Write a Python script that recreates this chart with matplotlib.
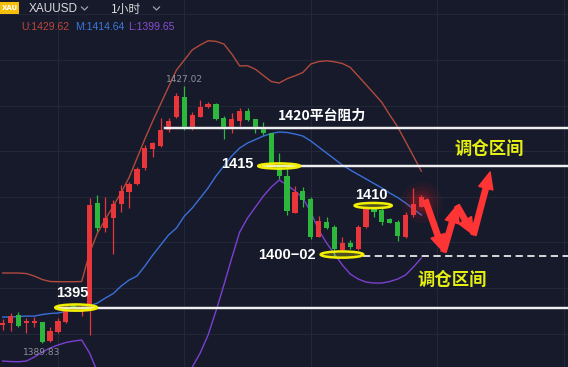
import matplotlib.pyplot as plt
from matplotlib.patches import Ellipse, Rectangle, FancyArrowPatch
import numpy as np

# XAUUSD 1h candles (red = up, green = down)
opens = [1392.49, 1392.69, 1393.89, 1392.69, 1392.78, 1392.92, 1390.13, 1391.39, 1392.88, 1395.34,
         1394.37, 1395.09, 1410.05, 1406.43, 1407.88, 1409.91, 1411.73, 1412.85, 1415.20, 1417.91,
         1418.39, 1420.66, 1422.58, 1425.48, 1420.90, 1422.58, 1423.94, 1424.42, 1422.35, 1421.05,
         1422.00, 1423.45, 1422.21, 1420.90, 1420.18, 1415.59, 1414.00, 1408.69, 1411.88, 1410.63,
         1405.22, 1407.39, 1406.58, 1403.29, 1404.35, 1403.40, 1406.58, 1409.18, 1409.08, 1407.74,
         1407.39, 1405.22, 1408.36, 1409.56]
closes = [1392.78, 1393.74, 1392.30, 1393.06, 1392.98, 1390.03, 1391.62, 1393.06, 1394.61, 1395.00,
          1394.90, 1409.81, 1406.43, 1407.88, 1409.95, 1411.83, 1412.89, 1414.97, 1418.01, 1418.73,
          1420.66, 1421.96, 1425.62, 1420.90, 1422.83, 1424.03, 1424.42, 1422.25, 1421.05, 1422.21,
          1423.45, 1422.11, 1420.90, 1420.18, 1415.59, 1414.00, 1408.98, 1411.73, 1410.53, 1405.13,
          1407.53, 1406.43, 1403.40, 1404.35, 1403.69, 1406.58, 1409.18, 1408.84, 1407.39, 1407.25,
          1405.32, 1408.36, 1409.95, 1410.92]
highs = [1393.31, 1394.18, 1394.32, 1393.46, 1393.56, 1392.95, 1392.20, 1393.41, 1395.19, 1395.50,
         1395.34, 1410.86, 1411.25, 1411.01, 1410.53, 1412.70, 1413.18, 1415.35, 1418.49, 1418.97,
         1422.35, 1422.44, 1425.97, 1427.02, 1423.31, 1425.00, 1424.75, 1424.50, 1422.68, 1423.08,
         1423.80, 1423.80, 1422.30, 1421.86, 1420.20, 1417.29, 1415.35, 1412.56, 1412.37, 1411.01,
         1408.21, 1408.11, 1406.91, 1405.22, 1404.74, 1406.91, 1409.56, 1409.47, 1409.56, 1407.97,
         1407.64, 1408.84, 1412.22, 1411.25]
lows = [1391.72, 1391.57, 1392.20, 1391.28, 1392.11, 1389.83, 1389.95, 1391.24, 1392.69, 1394.70,
        1393.74, 1391.00, 1406.09, 1405.94, 1402.67, 1408.84, 1409.33, 1412.70, 1414.87, 1416.80,
        1418.24, 1420.41, 1422.35, 1420.66, 1420.66, 1422.50, 1423.80, 1422.11, 1419.31, 1420.18,
        1421.28, 1421.96, 1420.27, 1419.94, 1415.12, 1413.53, 1408.36, 1408.60, 1409.56, 1404.84,
        1405.13, 1406.29, 1402.33, 1403.05, 1403.40, 1403.29, 1406.43, 1408.11, 1406.91, 1407.16,
        1404.64, 1404.99, 1408.11, 1409.47]

# Bollinger bands
upper = [1399.97, 1399.97, 1399.97, 1399.89, 1399.53, 1399.03, 1398.74, 1398.71, 1398.71, 1398.71,
         1398.74, 1402.86, 1405.77, 1407.72, 1409.66, 1411.60, 1413.79, 1416.56, 1419.36, 1421.98,
         1424.44, 1426.91, 1429.34, 1430.79, 1432.26, 1432.96, 1433.57, 1433.49, 1433.10, 1431.66,
         1429.93, 1429.96, 1429.44, 1428.55, 1427.68, 1427.46, 1428.08, 1428.50, 1428.98, 1430.21,
         1430.56, 1430.67, 1430.53, 1430.28, 1429.72, 1428.47, 1427.21, 1425.94, 1424.65, 1422.83,
         1421.09, 1418.99, 1416.85, 1414.70]
middle = [1393.60, 1393.60, 1393.67, 1393.74, 1393.74, 1393.96, 1394.11, 1394.18, 1394.40, 1394.61,
          1394.90, 1395.19, 1395.63, 1396.35, 1397.00, 1398.09, 1398.95, 1399.53, 1400.98, 1402.57,
          1404.02, 1405.47, 1406.48, 1408.21, 1409.37, 1410.82, 1412.27, 1414.00, 1415.45, 1416.90,
          1418.05, 1418.78, 1419.28, 1419.79, 1420.15, 1420.37, 1420.30, 1420.08, 1419.79, 1419.07,
          1418.20, 1417.33, 1416.46, 1415.59, 1414.87, 1414.22, 1413.57, 1412.92, 1412.27, 1411.54,
          1410.89, 1410.10, 1409.23, 1408.36]
lower = [1387.23, 1387.16, 1387.13, 1387.23, 1387.81, 1388.54, 1389.11, 1389.55, 1389.91, 1390.13,
         1390.27, 1388.39, 1385.64, 1384.92, 1384.34, 1384.48, 1384.19, 1383.04, 1382.60, 1383.18,
         1383.62, 1383.91, 1383.62, 1385.06, 1386.37, 1388.39, 1391.00, 1394.47, 1398.23, 1402.14,
         1405.90, 1407.93, 1409.52, 1411.11, 1412.41, 1413.42, 1412.70, 1411.83, 1410.82, 1408.79,
         1406.19, 1404.31, 1402.72, 1401.12, 1399.82, 1399.10, 1398.66, 1398.52, 1398.52, 1398.74,
         1399.10, 1399.68, 1400.84, 1402.14]

# hand drawn levels: (price, start index, dashed)
levels = [(1420.88, 20.5, False), (1415.52, 33.0, False), (1394.95, 6.9, False), (1402.50, 45.6, True)]
# yellow circles: (index, price, width, height)
rings = [(9.3, 1394.97, 5.3, 0.9), (35.0, 1415.45, 5.3, 0.75), (46.9, 1409.73, 4.7, 0.75), (42.95, 1402.64, 5.4, 0.9)]
# forecast zigzag
zigzag = [(53.5, 1410.5), (55.8, 1403.05), (57.5, 1409.7), (59.6, 1405.5), (61.7, 1414.6)]

bg = '#161a2b'
up_c = '#e8363a'
dn_c = '#2db83d'
cjk = ['Noto Sans CJK SC', 'DejaVu Sans']

fig = plt.figure(figsize=(5.68, 3.67), dpi=100)
fig.patch.set_facecolor(bg)
ax = fig.add_axes([0, 0, 1, 1])
ax.set_facecolor(bg)
ax.set_xlim(-0.34, 71.56)
ax.set_ylim(1386.37, 1439.47)
ax.axis('off')

# grid
for gx in [7, 23, 39, 55, 71]:
    ax.axvline(gx, color='#232839', lw=0.8, zorder=0)
for gy in [1391.2, 1397.8, 1404.4, 1411.0, 1417.6, 1424.2, 1430.8, 1437.4]:
    ax.axhline(gy, color='#232839', lw=0.8, zorder=0)

x = np.arange(len(opens))
o = np.array(opens)
c = np.array(closes)
h = np.array(highs)
l = np.array(lows)

ax.plot(x, upper, color='#b04a3c', lw=1.0, zorder=2)
ax.plot(x, middle, color='#3a6fd8', lw=1.0, zorder=2)
ax.plot(x, lower, color='#7b40cf', lw=1.0, zorder=2)

# glow on last candle
for s, a in [(900, 0.05), (550, 0.07), (300, 0.1), (150, 0.15)]:
    ax.scatter(x[-1], (o[-1] + c[-1]) / 2, s=s, color='#ff2020', alpha=a, lw=0, zorder=2)

cols = np.where(c >= o, up_c, dn_c)
ax.vlines(x, l, h, colors=cols, lw=0.9, zorder=3)
body = np.maximum(np.abs(c - o), 0.18)
ax.bar(x, body, bottom=np.minimum(o, c), width=0.66, color=cols, zorder=4)

# levels
for lv, start, dashed in levels:
    if dashed:
        ax.plot([start, 71.6], [lv, lv], color='#e8e8e8', lw=1.3, ls=(0, (4, 2.5)), zorder=5)
    else:
        ax.plot([start, 71.6], [lv, lv], color='#8a8d96', lw=2.6, alpha=0.5, zorder=5)
        ax.plot([start, 71.6], [lv, lv], color='#f4f4f4', lw=1.4, zorder=5)

for ex, ey, ew, eh in rings:
    ax.add_patch(Ellipse((ex, ey), ew, eh, facecolor='#f2f000', alpha=0.25, lw=0, zorder=6))
    ax.add_patch(Ellipse((ex, ey), ew, eh, facecolor='none', edgecolor='#f2f000', lw=1.8, zorder=6))

for (x0, y0), (x1, y1) in zip(zigzag[:-1], zigzag[1:]):
    ax.add_patch(FancyArrowPatch((x0, y0), (x1, y1), shrinkA=0, shrinkB=0,
                                 arrowstyle='simple,head_length=1.1,head_width=0.95,tail_width=0.35',
                                 mutation_scale=11, color='#ff3535', zorder=7))

# labels
wfont = dict(color='white', fontsize=10.5, fontweight='bold', family='Liberation Sans',
             ha='center', va='center', zorder=8)
ax.text(8.77, 1397.14, '1395', **wfont)
ax.text(29.75, 1415.81, '1415', **wfont)
ax.text(46.62, 1411.30, '1410', **wfont)
ax.text(36.03, 1402.64, '1400\u221202', **wfont)
ax.text(40.42, 1422.68, '1420平台阻力', color='white', fontsize=10, fontweight='bold',
        family=cjk, ha='center', va='center', zorder=8)
ax.text(61.56, 1417.91, '调仓区间', color='#e6ef12', fontsize=12.5, fontweight='bold',
        family=cjk, ha='center', va='center', zorder=8)
ax.text(56.84, 1398.95, '调仓区间', color='#e6ef12', fontsize=12.5, fontweight='bold',
        family=cjk, ha='center', va='center', zorder=8)
ax.text(22.95, 1427.9, '1427.02', color='#8e9099', fontsize=6.5, ha='center', va='center', zorder=8)
ax.text(4.97, 1388.46, '1389.83', color='#8e9099', fontsize=6.5, ha='center', va='center', zorder=8)

# header
ax.add_patch(Rectangle((0, 1 - 14 / 367), 19 / 568, 12 / 367, transform=ax.transAxes,
                       facecolor='#f5be0a', lw=0, zorder=9))
ax.text(9.5 / 568, 1 - 8 / 367, 'XAU', transform=ax.transAxes, color='white', fontsize=5,
        fontweight='bold', ha='center', va='center', zorder=10)
ax.text(29 / 568, 1 - 9 / 367, 'XAUUSD', transform=ax.transAxes, color='#dcdcdc', fontsize=8.5,
        family='Liberation Sans', ha='left', va='center', zorder=10)
ax.text(111 / 568, 1 - 9 / 367, '1小时', transform=ax.transAxes, color='#dcdcdc', fontsize=8.5,
        family=cjk, ha='left', va='center', zorder=10)
for cx in [84.5, 156.5]:
    ax.plot([(cx - 3) / 568, cx / 568, (cx + 3) / 568], [1 - 7 / 367, 1 - 10 / 367, 1 - 7 / 367],
            transform=ax.transAxes, color='#a0a0a8', lw=0.9, zorder=10)
ax.text(21.7 / 568, 1 - 27 / 367, 'U:1429.62', transform=ax.transAxes, color='#c0463a', fontsize=7.5,
        family='Liberation Sans', ha='left', va='center', zorder=10)
ax.text(75 / 568, 1 - 27 / 367, 'M:1414.64', transform=ax.transAxes, color='#3c78d8', fontsize=7.5,
        family='Liberation Sans', ha='left', va='center', zorder=10)
ax.text(128 / 568, 1 - 27 / 367, 'L:1399.65', transform=ax.transAxes, color='#8a4fd0', fontsize=7.5,
        family='Liberation Sans', ha='left', va='center', zorder=10)

plt.savefig('out.png', dpi=100, facecolor=bg)
